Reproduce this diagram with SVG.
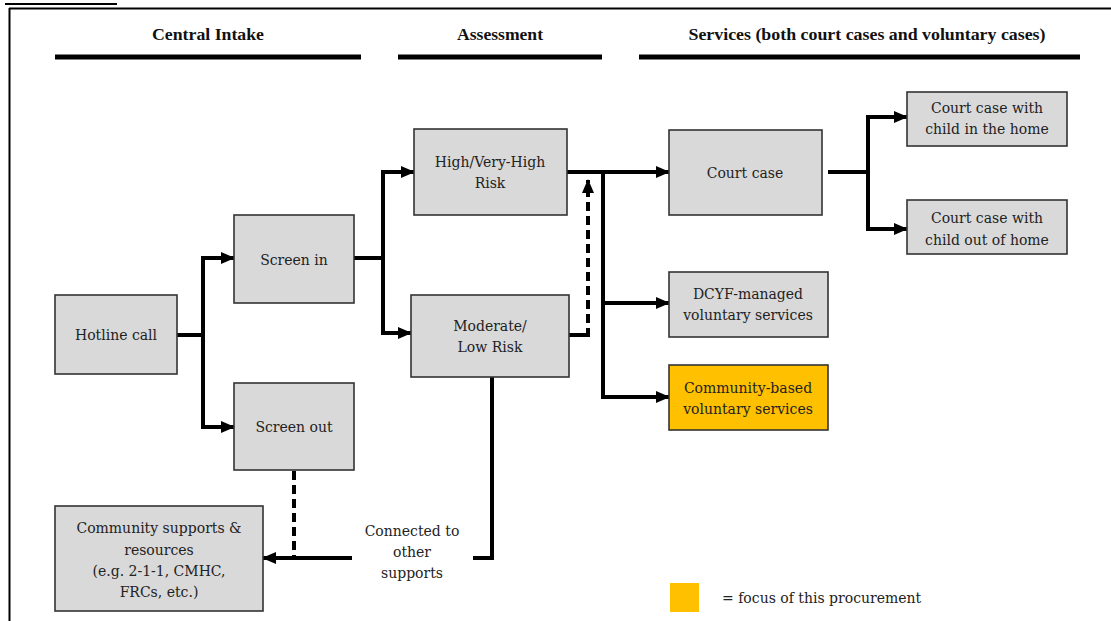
<svg xmlns="http://www.w3.org/2000/svg" width="1111" height="621" viewBox="0 0 1111 621">
<defs>
<marker id="ah" markerUnits="userSpaceOnUse" markerWidth="14" markerHeight="12" refX="13" refY="6" orient="auto">
<path d="M0,0 L14,6 L0,12 Z" fill="#000"/>
</marker>
<style>
.box{fill:#D9D9D9;stroke:#333;stroke-width:1.6}
.focus{fill:#FFC000;stroke:#333;stroke-width:1.6}
.t{font-family:"DejaVu Serif","Liberation Serif",serif;font-size:14px;fill:#222;text-anchor:middle}
.h{font-family:"Liberation Serif",serif;font-size:16px;font-weight:bold;fill:#111;text-anchor:middle}
.bar{stroke:#000;stroke-width:5}
.c{fill:none;stroke:#000;stroke-width:4}
.d{fill:none;stroke:#000;stroke-width:4;stroke-dasharray:9 5}
</style>
</defs>
<g id="frame">
<line x1="5" y1="4" x2="117" y2="4" stroke="#000" stroke-width="2"/>
<line x1="9" y1="8.5" x2="1111" y2="8.5" stroke="#000" stroke-width="2"/>
<line x1="9.5" y1="8" x2="9.5" y2="621" stroke="#000" stroke-width="2"/>
</g>
<g id="headers">
<text class="h" x="208" y="40" textLength="112" lengthAdjust="spacingAndGlyphs">Central Intake</text>
<text class="h" x="500" y="40" textLength="86" lengthAdjust="spacingAndGlyphs">Assessment</text>
<text class="h" x="867" y="40" textLength="357" lengthAdjust="spacingAndGlyphs">Services (both court cases and voluntary cases)</text>
<line class="bar" x1="55" y1="57" x2="361" y2="57"/>
<line class="bar" x1="398" y1="57" x2="602" y2="57"/>
<line class="bar" x1="639" y1="57" x2="1080" y2="57"/>
</g>
<g id="connectors">
<path class="c" d="M177 335 H203 V258 H234" marker-end="url(#ah)"/>
<path class="c" d="M203 335 V427 H234" marker-end="url(#ah)"/>
<path class="c" d="M354 258 H383 V172 H414" marker-end="url(#ah)"/>
<path class="c" d="M383 258 V333 H411" marker-end="url(#ah)"/>
<path class="c" d="M567 172 H669" marker-end="url(#ah)"/>
<path class="c" d="M603 172 V397 H669" marker-end="url(#ah)"/>
<path class="c" d="M603 303 H669" marker-end="url(#ah)"/>
<path class="c" d="M569 335 H588"/>
<path class="d" d="M588 337 V180" marker-end="url(#ah)"/>
<path class="c" d="M828 172 H868 V117 H907" marker-end="url(#ah)"/>
<path class="c" d="M868 172 V229 H907" marker-end="url(#ah)"/>
<path class="d" d="M294 471 V558"/>
<path class="c" d="M352 558 H263" marker-end="url(#ah)"/>
<path class="c" d="M473 558 H492 V377"/>
</g>
<g id="hotline">
<rect class="box" x="55" y="295" width="122" height="79"/>
<text class="t" x="116" y="340">Hotline call</text>
</g>
<g id="screen-in">
<rect class="box" x="234" y="215" width="120" height="88"/>
<text class="t" x="294" y="265">Screen in</text>
</g>
<g id="screen-out">
<rect class="box" x="234" y="383" width="120" height="87"/>
<text class="t" x="294" y="432">Screen out</text>
</g>
<g id="high-risk">
<rect class="box" x="414" y="129" width="153" height="86"/>
<text class="t" x="490" y="167">High/Very-High</text>
<text class="t" x="490" y="188">Risk</text>
</g>
<g id="moderate-risk">
<rect class="box" x="411" y="295" width="158" height="82"/>
<text class="t" x="490" y="331">Moderate/</text>
<text class="t" x="490" y="352">Low Risk</text>
</g>
<g id="court-case">
<rect class="box" x="669" y="130" width="153" height="85"/>
<text class="t" x="745" y="178">Court case</text>
</g>
<g id="court-in-home">
<rect class="box" x="907" y="92" width="160" height="54"/>
<text class="t" x="987" y="113">Court case with</text>
<text class="t" x="987" y="134">child in the home</text>
</g>
<g id="court-out-home">
<rect class="box" x="907" y="200" width="160" height="54"/>
<text class="t" x="987" y="223">Court case with</text>
<text class="t" x="987" y="245">child out of home</text>
</g>
<g id="dcyf">
<rect class="box" x="669" y="272" width="159" height="65"/>
<text class="t" x="748" y="299">DCYF-managed</text>
<text class="t" x="748" y="320">voluntary services</text>
</g>
<g id="community-based">
<rect class="focus" x="669" y="365" width="159" height="65"/>
<text class="t" x="748" y="393">Community-based</text>
<text class="t" x="748" y="414">voluntary services</text>
</g>
<g id="community-supports">
<rect class="box" x="55" y="506" width="208" height="105"/>
<text class="t" x="159" y="533">Community supports &amp;</text>
<text class="t" x="159" y="555">resources</text>
<text class="t" x="159" y="576">(e.g. 2-1-1, CMHC,</text>
<text class="t" x="159" y="597">FRCs, etc.)</text>
</g>
<g id="connected-label">
<text class="t" x="412" y="536">Connected to</text>
<text class="t" x="412" y="557">other</text>
<text class="t" x="412" y="578">supports</text>
</g>
<g id="legend">
<rect x="670" y="583" width="29" height="29" fill="#FFC000"/>
<text class="t" x="722" y="603" style="text-anchor:start">= focus of this procurement</text>
</g>
</svg>
